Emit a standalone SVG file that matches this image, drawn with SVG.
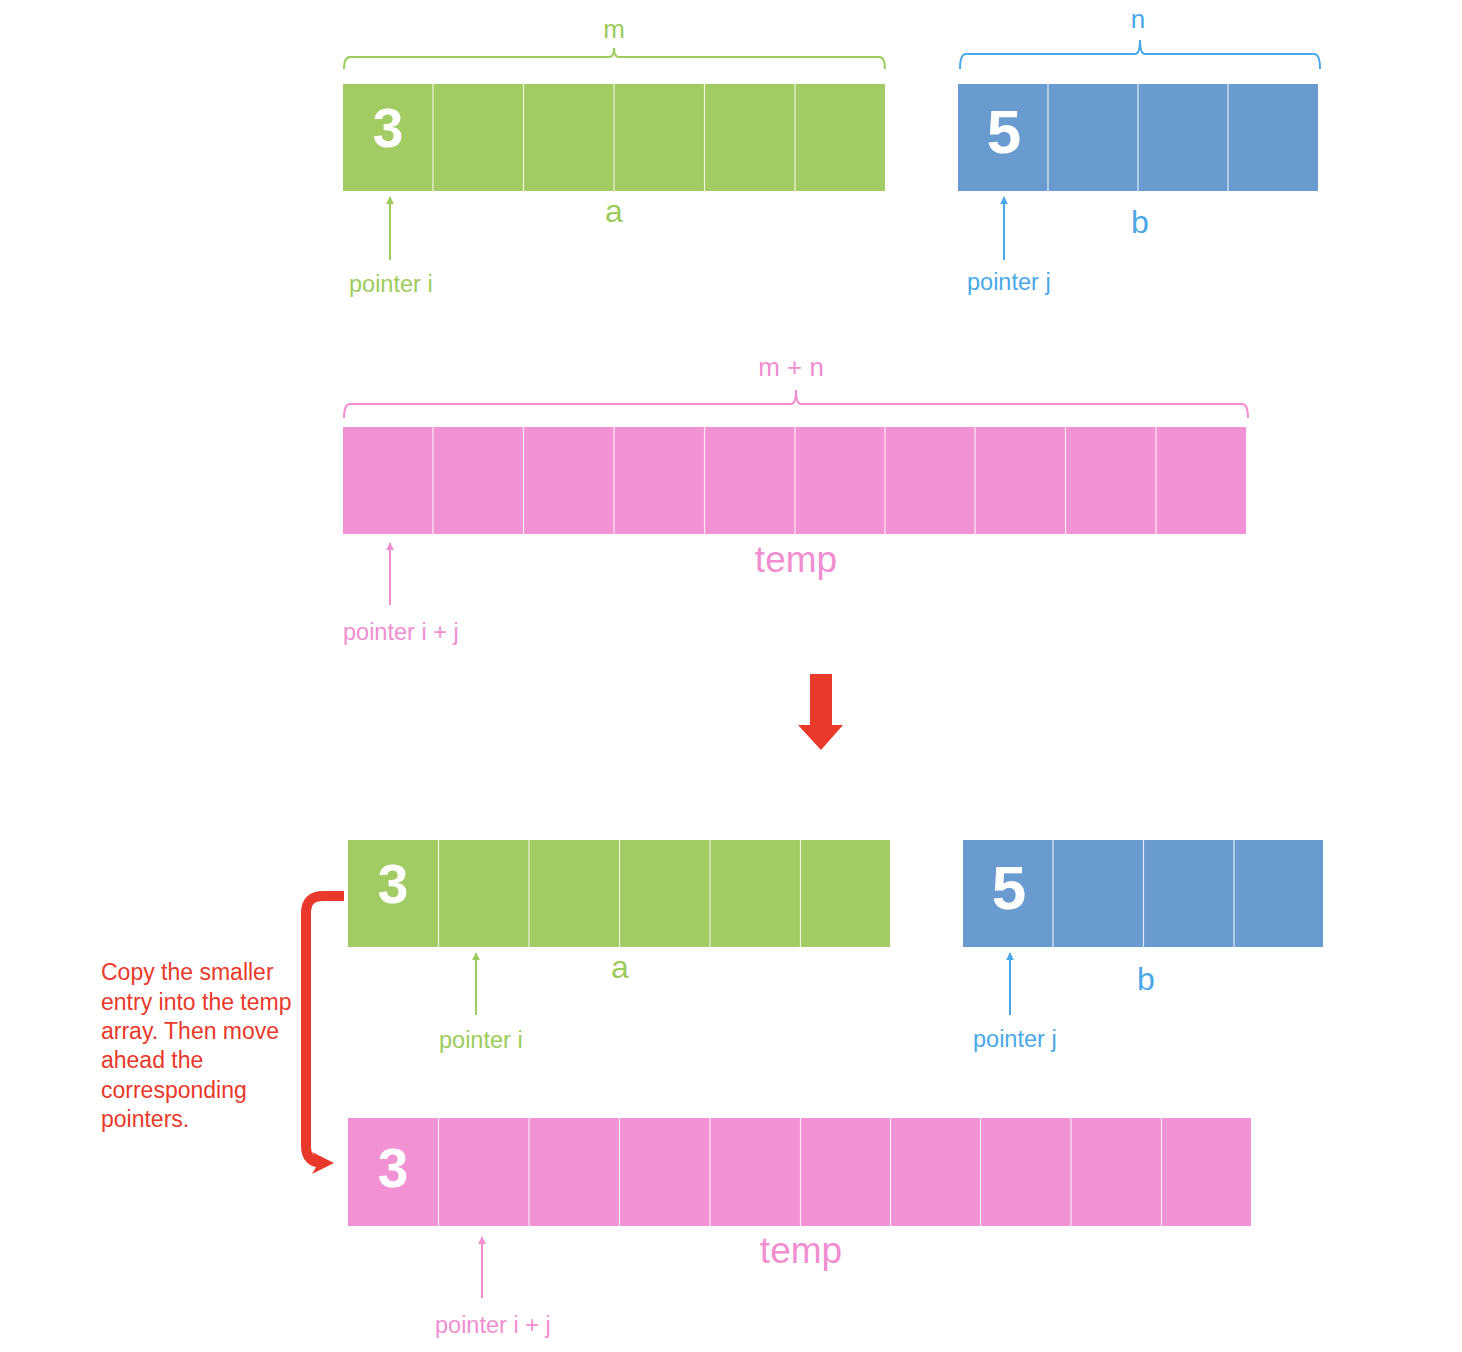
<svg xmlns="http://www.w3.org/2000/svg" width="1462" height="1352" viewBox="0 0 1462 1352">
<defs>
<style>
.g{fill:#A2CC63}.b{fill:#6A9BD0}.p{fill:#F092D3}
.div{stroke:#ffffff;stroke-width:1.2;stroke-opacity:0.8}
.t{font-family:"Liberation Sans",Arial,sans-serif}
.tg{fill:#9DCB5C}.tb{fill:#4AA8E8}.tp{fill:#F08ED0}
.big{font-family:"Liberation Sans",Arial,sans-serif;font-weight:bold;fill:#ffffff;text-anchor:middle}
.br{fill:none;stroke-width:2}
.ptr{stroke-width:2}
</style>
<marker id="ag" viewBox="0 0 10 10" refX="9" refY="5" markerWidth="4" markerHeight="4" orient="auto"><path d="M0,0L10,5L0,10z" fill="#9DCB5C"/></marker>
<marker id="ab" viewBox="0 0 10 10" refX="9" refY="5" markerWidth="4" markerHeight="4" orient="auto"><path d="M0,0L10,5L0,10z" fill="#4AA8E8"/></marker>
<marker id="ap" viewBox="0 0 10 10" refX="9" refY="5" markerWidth="4" markerHeight="4" orient="auto"><path d="M0,0L10,5L0,10z" fill="#F08ED0"/></marker>
<marker id="ar" viewBox="0 0 10 10" refX="5" refY="5" markerWidth="2.2" markerHeight="2.4" orient="auto"><path d="M0,0L10,5L0,10L3,5z" fill="#E8392A"/></marker>
</defs>
<rect width="1462" height="1352" fill="#ffffff"/>

<g id="array-a-top">
<rect class="g" x="343" y="84" width="542" height="107"/>
<g class="div"><line x1="433" y1="84" x2="433" y2="191"/><line x1="523.5" y1="84" x2="523.5" y2="191"/><line x1="614" y1="84" x2="614" y2="191"/><line x1="704.5" y1="84" x2="704.5" y2="191"/><line x1="795" y1="84" x2="795" y2="191"/></g>
<text class="big" x="388" y="147" font-size="55">3</text>
<text class="t tg" x="614" y="222" font-size="32" text-anchor="middle">a</text>
</g>
<g id="brace-m">
<path class="br" stroke="#9DCB5C" d="M344,69 Q344,57 350,57 L609,57 Q614,57 614,48 Q614,57 619,57 L879,57 Q885,57 885,69"/>
<text class="t tg" x="614" y="38" font-size="26" text-anchor="middle">m</text>
</g>

<g id="array-b-top">
<rect class="b" x="958" y="84" width="360" height="107"/>
<g class="div"><line x1="1048" y1="84" x2="1048" y2="191"/><line x1="1138" y1="84" x2="1138" y2="191"/><line x1="1228" y1="84" x2="1228" y2="191"/></g>
<text class="big" x="1004" y="153" font-size="62">5</text>
<text class="t tb" x="1140" y="233" font-size="32" text-anchor="middle">b</text>
</g>
<g id="brace-n">
<path class="br" stroke="#4AA8E8" d="M960,69 Q960,54 966,54 L1135,54 Q1140,54 1140,40 Q1140,54 1145,54 L1314,54 Q1320,54 1320,69"/>
<text class="t tb" x="1138" y="28" font-size="26" text-anchor="middle">n</text>
</g>

<g id="array-temp-top">
<rect class="p" x="343" y="427" width="903" height="107"/>
<g class="div"><line x1="433" y1="427" x2="433" y2="534"/><line x1="523.5" y1="427" x2="523.5" y2="534"/><line x1="614" y1="427" x2="614" y2="534"/><line x1="704.5" y1="427" x2="704.5" y2="534"/><line x1="795" y1="427" x2="795" y2="534"/><line x1="885" y1="427" x2="885" y2="534"/><line x1="975" y1="427" x2="975" y2="534"/><line x1="1065.5" y1="427" x2="1065.5" y2="534"/><line x1="1156" y1="427" x2="1156" y2="534"/></g>
<text class="t tp" x="796" y="572" font-size="37" text-anchor="middle">temp</text>
</g>
<g id="brace-mn">
<path class="br" stroke="#F08ED0" d="M344,418 Q344,404 350,404 L791,404 Q796,404 796,390 Q796,404 801,404 L1242,404 Q1248,404 1248,418"/>
<text class="t tp" x="791" y="376" font-size="26" text-anchor="middle">m + n</text>
</g>

<g id="pointer-labels-top">
<text class="t tg" x="349" y="292" font-size="23.5">pointer i</text>
<text class="t tb" x="967" y="290" font-size="23.5">pointer j</text>
<text class="t tp" x="343" y="640" font-size="23.5">pointer i + j</text>
</g>

<g id="array-a-bottom">
<rect class="g" x="348" y="840" width="542" height="107"/>
<g class="div"><line x1="438.5" y1="840" x2="438.5" y2="947"/><line x1="529" y1="840" x2="529" y2="947"/><line x1="619.5" y1="840" x2="619.5" y2="947"/><line x1="710" y1="840" x2="710" y2="947"/><line x1="800.5" y1="840" x2="800.5" y2="947"/></g>
<text class="big" x="393" y="903" font-size="55">3</text>
<text class="t tg" x="620" y="978" font-size="32" text-anchor="middle">a</text>
</g>

<g id="array-b-bottom">
<rect class="b" x="963" y="840" width="360" height="107"/>
<g class="div"><line x1="1053" y1="840" x2="1053" y2="947"/><line x1="1143.5" y1="840" x2="1143.5" y2="947"/><line x1="1234" y1="840" x2="1234" y2="947"/></g>
<text class="big" x="1009" y="909" font-size="62">5</text>
<text class="t tb" x="1146" y="990" font-size="32" text-anchor="middle">b</text>
</g>

<g id="array-temp-bottom">
<rect class="p" x="348" y="1118" width="903" height="108"/>
<g class="div"><line x1="438.5" y1="1118" x2="438.5" y2="1226"/><line x1="529" y1="1118" x2="529" y2="1226"/><line x1="619.5" y1="1118" x2="619.5" y2="1226"/><line x1="710" y1="1118" x2="710" y2="1226"/><line x1="800.5" y1="1118" x2="800.5" y2="1226"/><line x1="890.5" y1="1118" x2="890.5" y2="1226"/><line x1="980.5" y1="1118" x2="980.5" y2="1226"/><line x1="1071" y1="1118" x2="1071" y2="1226"/><line x1="1161.5" y1="1118" x2="1161.5" y2="1226"/></g>
<text class="big" x="393" y="1187" font-size="55">3</text>
<text class="t tp" x="801" y="1263" font-size="37" text-anchor="middle">temp</text>
</g>

<g id="pointer-labels-bottom">
<text class="t tg" x="439" y="1048" font-size="23.5">pointer i</text>
<text class="t tb" x="973" y="1047" font-size="23.5">pointer j</text>
<text class="t tp" x="435" y="1333" font-size="23.5">pointer i + j</text>
</g>

<g id="note">
<text class="t" fill="#E8392A" font-size="23">
<tspan x="101" y="980">Copy the smaller</tspan>
<tspan x="101" y="1010">entry into the temp</tspan>
<tspan x="101" y="1039">array. Then move</tspan>
<tspan x="101" y="1068">ahead the</tspan>
<tspan x="101" y="1098">corresponding</tspan>
<tspan x="101" y="1127">pointers.</tspan>
</text>
</g>

<g id="connectors">
<line class="ptr" stroke="#9DCB5C" x1="390" y1="260" x2="390" y2="197" marker-end="url(#ag)"/>
<line class="ptr" stroke="#4AA8E8" x1="1004" y1="260" x2="1004" y2="197" marker-end="url(#ab)"/>
<line class="ptr" stroke="#F08ED0" x1="390" y1="605" x2="390" y2="543" marker-end="url(#ap)"/>
<line class="ptr" stroke="#9DCB5C" x1="476" y1="1015" x2="476" y2="953" marker-end="url(#ag)"/>
<line class="ptr" stroke="#4AA8E8" x1="1010" y1="1015" x2="1010" y2="953" marker-end="url(#ab)"/>
<line class="ptr" stroke="#F08ED0" x1="482" y1="1298" x2="482" y2="1237" marker-end="url(#ap)"/>
<path d="M810,674 L832,674 L832,725 L843,725 L821,750 L798,725 L810,725 Z" fill="#E8392A"/>
<path d="M344,896 L323,896 Q306,896 306,913 L306,1146 Q306,1163 323,1163 L323,1163" fill="none" stroke="#E8392A" stroke-width="10" marker-end="url(#ar)"/>
</g>
</svg>
